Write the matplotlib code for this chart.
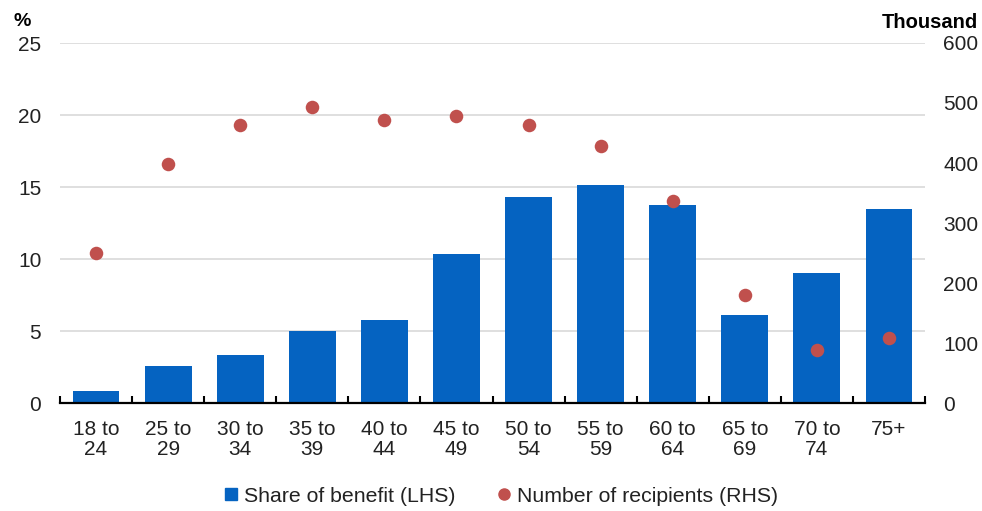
import matplotlib.pyplot as plt
from matplotlib.lines import Line2D
import numpy as np

plt.rcParams['font.family'] = ['Liberation Sans', 'DejaVu Sans']

age_groups = ["18 to\n24", "25 to\n29", "30 to\n34", "35 to\n39", "40 to\n44", "45 to\n49",
              "50 to\n54", "55 to\n59", "60 to\n64", "65 to\n69", "70 to\n74", "75+"]
share_of_benefit = [0.83, 2.55, 3.33, 5.02, 5.74, 10.37, 14.28, 15.16, 13.73, 6.09, 9.0, 13.47]
recipients_thousand = [250, 398, 464, 494, 471, 478, 463, 428, 336, 180, 88, 109]

bar_blue = "#0563C1"
dot_red = "#C0504D"
label_col = "#222222"

fig = plt.figure(figsize=(9.82, 5.11), dpi=100)
ax = fig.add_axes([60 / 982, 1 - 403 / 511, 865 / 982, 360 / 511])
ax2 = ax.twinx()

x = np.arange(len(age_groups))
ax.bar(x, share_of_benefit, width=0.65, color=bar_blue, zorder=2)
ax2.scatter(x, recipients_thousand, s=95, color=dot_red, zorder=3, linewidths=0)

ax.set_xlim(-0.5, len(age_groups) - 0.5)
ax.set_ylim(0, 25)
ax.set_yticks(np.arange(0, 26, 5))
ax2.set_ylim(0, 600)
ax2.set_yticks(np.arange(0, 601, 100))

ax.yaxis.grid(True, color="#D9D9D9", linewidth=1.2, zorder=0)
ax.set_axisbelow(True)

for a in (ax, ax2):
    for side in ("top", "left", "right"):
        a.spines[side].set_visible(False)
ax2.spines["bottom"].set_visible(False)
ax.spines["bottom"].set_linewidth(1.6)
ax.spines["bottom"].set_color("black")

# category labels centred, separator ticks between groups
ax.set_xticks(x)
ax.set_xticklabels(age_groups, fontsize=15, color=label_col, linespacing=1.12)
ax.tick_params(axis="x", which="major", length=0, pad=12)
ax.set_xticks(np.arange(-0.5, len(age_groups), 1), minor=True)
ax.tick_params(axis="x", which="minor", direction="in", length=5, width=1.5, color="black")

ax.tick_params(axis="y", length=0, labelsize=15, pad=13.5, labelcolor=label_col)
ax2.tick_params(axis="y", length=0, labelsize=15, pad=13, labelcolor=label_col)

fig.text(13 / 982, 1 - 22 / 511, "%", fontsize=14, fontweight="bold", va="center", ha="left")
fig.text(978 / 982, 1 - 22 / 511, "Thousand", fontsize=14.5, fontweight="bold", va="center", ha="right")

handles = [
    Line2D([], [], marker="s", linestyle="none", color=bar_blue, markersize=8),
    Line2D([], [], marker="o", linestyle="none", color=dot_red, markersize=8),
]
fig.legend(handles, ["Share of benefit (LHS)", "Number of recipients (RHS)"],
           loc="center", bbox_to_anchor=(500 / 982, 1 - 496 / 511), ncol=2, frameon=False,
           fontsize=15.3, handletextpad=0.2, columnspacing=1.9, handlelength=0.8,
           labelcolor=label_col)

fig.savefig("out.png", dpi=100)
